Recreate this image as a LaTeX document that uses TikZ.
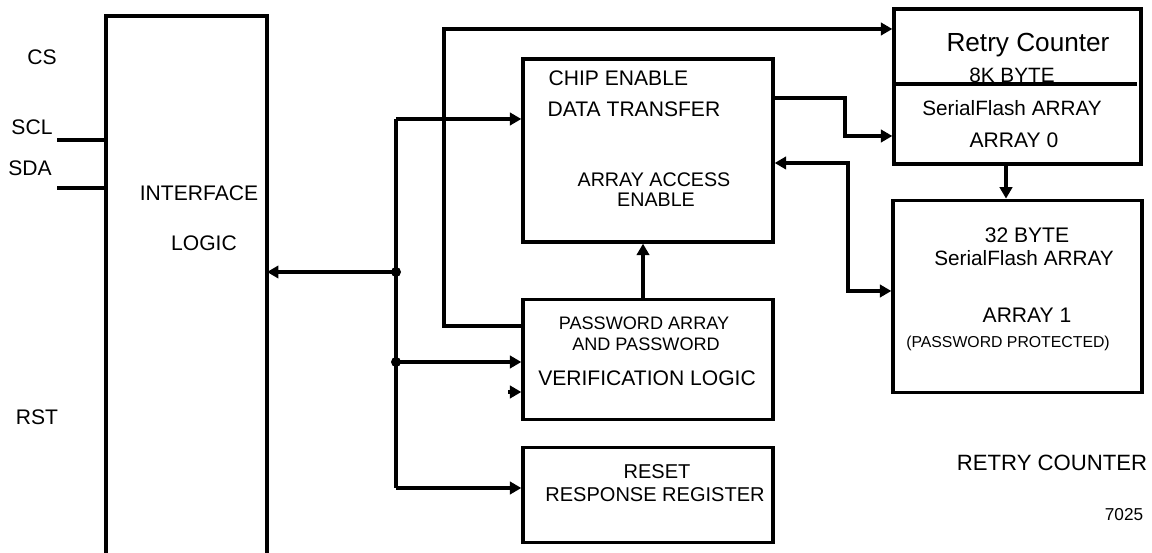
\documentclass[tikz,border=0pt]{standalone}
\usepackage{fontspec}
\setmainfont{Liberation Sans}
\usepackage{tikz}
\usetikzlibrary{calc,arrows.meta,positioning}
\newcommand{\fs}[1]{\fontsize{#1}{#1}\selectfont}

\begin{document}
\begin{tikzpicture}[x=0.02cm,y=-0.02cm,line width=1.9pt,font=\fs{12}]

\tikzset{blockbox/.style={draw,rectangle,minimum width=5cm,inner sep=0pt},
lbl/.style={inner sep=0pt,font=\fs{12}},
arr/.style={-{Triangle[length=6.5pt,width=7pt]}},
arrboth/.style={{Triangle[length=6.5pt,width=7pt]}-{Triangle[length=6.5pt,width=7pt]}}}

\useasboundingbox (0,0) rectangle (1152,553);

% Interface logic (open at the bottom)
\coordinate (iL) at (106,16);
\coordinate (iR) at (267,16);
\draw (iL |- 0,553) -- (iL) -- (iR) -- (iR |- 0,553);
\node[lbl] (iface1) at (199,193) {INTERFACE};
\node[lbl] (iface2) at (204,243) {LOGIC};

% Pins
\node[lbl] (cs) at (42,57) {CS};
\node[lbl] (scl) at (32,127) {SCL};
\node[lbl] (sda) at (30,168) {SDA};
\node[lbl] (rstpin) at (37,417) {RST};
\coordinate (sclEnd) at (57,140);
\coordinate (sdaEnd) at (57,188);
\draw (sclEnd) -- (iL |- sclEnd);
\draw (sdaEnd) -- (iL |- sdaEnd);

% Middle blocks
\node[blockbox,minimum height=3.66cm] (chip) at (648,150.5) {};
\node[blockbox,minimum height=2.4cm,below=1.08cm of chip] (pwd) {};
\node[blockbox,minimum height=1.9cm,below=0.5cm of pwd] (rst) {};

\node[lbl,anchor=west] at (547,78) {CHIP ENABLE};
\node[lbl,anchor=west] at (546,109) {DATA TRANSFER};
\node[lbl,font=\fs{11.2}] at (654,180) {ARRAY ACCESS};
\node[lbl,font=\fs{11.2}] at (656,200) {ENABLE};

\node[lbl,font=\fs{10.3}] at (644,323) {PASSWORD ARRAY};
\node[lbl,font=\fs{10.3}] at (646,344) {AND PASSWORD};
\node[lbl] at (647,378) {VERIFICATION LOGIC};

\node[lbl,font=\fs{11.4}] at (657,472) {RESET};
\node[lbl,font=\fs{11.4}] at (655,495) {RESPONSE REGISTER};

% Right blocks
\node[draw,rectangle,minimum width=4.94cm,minimum height=3.1cm,inner sep=0pt] (arr0) at (1017.5,86.5) {};
\node[draw,rectangle,minimum width=4.98cm,minimum height=3.84cm,inner sep=0pt,below=0.66cm of arr0] (arr1) {};
\coordinate (divR) at (1137,84);
\draw (arr0.west |- divR) -- (divR);

\node[lbl,font=\fs{14.9}] at (1028,45) {Retry Counter};
\node[lbl,font=\fs{11.8}] at (1012,75) {8K BYTE};
\node[lbl,font=\fs{11.8}] at (1012,108) {SerialFlash ARRAY};
\node[lbl] at (1014,140) {ARRAY 0};

\node[lbl] at (1027,235) {32 BYTE};
\node[lbl,font=\fs{11.8}] at (1024,258) {SerialFlash ARRAY};
\node[lbl] at (1027,315) {ARRAY 1};
\node[lbl,font=\fs{9}] at (1008,343) {(PASSWORD PROTECTED)};

\node[lbl,font=\fs{12.6}] at (1052,463) {RETRY COUNTER};
\node[lbl,font=\fs{9.8}] at (1124,515) {7025};

% Bus
\coordinate (busT) at (396,119);
\coordinate (busB) at (396,488);
\coordinate (j1) at (396,272);
\coordinate (j2) at (396,362);
\draw (busT) -- (busB);
\foreach \j in {j1,j2} \fill (\j) circle (0.1cm);
\draw[arr] (j1) -- (iR |- j1);
\draw[arr] (busT) -- (chip.west |- busT);
\draw[arr] (j2) -- (pwd.west |- j2);
\draw[arr] (busB) -- (rst.west |- busB);
\coordinate (stray) at (508,392);
\draw[arr] (stray) -- (pwd.west |- stray);

% Loop from password logic to retry counter
\coordinate (loopT) at (444,29);
\coordinate (loopB) at (444,326);
\draw[arr] (pwd.west |- loopB) -- (loopB) -- (loopT) -- (arr0.west |- loopT);

% Password logic enables array access
\draw[arr] ([xshift=-0.1cm]pwd.north) -- ([xshift=-0.1cm]chip.south);

% Data transfer to array 0
\coordinate (bendA) at (845,98);
\coordinate (bendB) at (845,136);
\draw[arr] (chip.east |- bendA) -- (bendA) -- (bendB) -- (arr0.west |- bendB);

% Array access to array 1
\coordinate (bendC) at (848,163);
\coordinate (bendD) at (848,291);
\draw[arrboth] (chip.east |- bendC) -- (bendC) -- (bendD) -- (arr1.west |- bendD);

% Array 0 to array 1
\coordinate (drop) at (1006,0);
\draw[arr] (drop |- arr0.south) -- (drop |- arr1.north);

\end{tikzpicture}
\end{document}
